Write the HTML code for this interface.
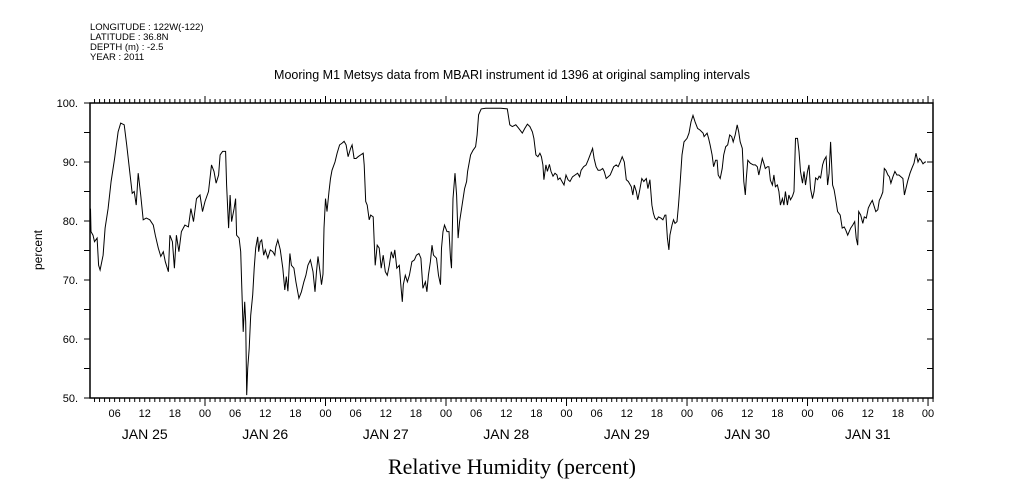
<!DOCTYPE html>
<html><head><meta charset="utf-8"><style>
body{margin:0;background:#fff;}
svg{display:block;font-family:"Liberation Sans",sans-serif;}
</style></head><body>
<svg id="chart" width="1009" height="504" viewBox="0 0 1009 504" xmlns="http://www.w3.org/2000/svg">
<g font-size="9.5" fill="#000">
<text x="90" y="30">LONGITUDE : 122W(-122)</text>
<text x="90" y="40">LATITUDE : 36.8N</text>
<text x="90" y="50">DEPTH (m) : -2.5</text>
<text x="90" y="60">YEAR : 2011</text>
</g>
<text x="512" y="79" font-size="12.5" text-anchor="middle">Mooring M1 Metsys data from MBARI instrument id 1396 at original sampling intervals</text>
<text x="512" y="474" font-size="22" text-anchor="middle" font-family="Liberation Serif, serif">Relative Humidity (percent)</text>
<text transform="translate(42,250) rotate(-90)" font-size="12" text-anchor="middle">percent</text>
<rect x="90" y="103" width="843" height="295" fill="none" stroke="#000" stroke-width="1.5"/>
<g id="axes"></g>
<path id="line" fill="none" stroke="#000" stroke-width="1"/>
</svg>
<script>
const hours=[1.2,1.3,1.7,2.0,2.5,2.8,3.1,3.7,4.1,4.7,5.3,6.0,6.7,7.2,7.9,8.4,9.0,9.5,9.9,10.3,10.7,11.2,11.7,12.3,13.0,13.7,14.1,14.7,15.2,15.7,16.1,16.7,17.0,17.5,17.9,18.3,18.8,19.3,20.0,20.7,21.2,21.7,22.3,23.0,23.5,24.0,24.7,25.3,25.8,26.2,26.7,27.0,27.5,28.1,28.3,28.7,29.0,29.3,29.8,30.1,30.3,30.8,31.1,31.3,31.6,31.9,32.1,32.3,32.5,32.8,33.1,33.5,33.8,34.1,34.5,34.7,35.0,35.3,35.7,36.0,36.5,37.0,37.5,37.9,38.1,38.5,39.0,39.5,39.9,40.2,40.5,40.9,41.2,41.7,42.1,42.7,43.2,43.7,44.1,44.5,45.0,45.5,45.9,46.2,46.5,46.9,47.2,47.5,47.7,48.0,48.3,48.7,49.0,49.3,49.9,50.3,50.8,51.3,51.7,52.1,52.5,53.0,53.3,53.7,54.1,54.5,55.0,55.5,55.7,56.0,56.3,56.7,57.0,57.5,57.7,57.9,
58.3,58.7,59.1,59.5,59.9,60.3,60.7,61.1,61.5,61.8,62.2,62.7,63.0,63.3,63.5,63.9,64.3,64.7,65.2,65.7,66.1,66.6,67.0,67.4,67.9,68.2,68.5,68.9,69.2,69.5,70.1,70.5,70.9,71.1,71.4,71.7,72.2,72.6,72.9,73.1,73.4,73.8,74.1,74.4,74.7,75.2,75.7,76.1,76.3,76.9,77.4,77.9,78.2,78.5,79.0,79.9,81.5,82.9,84.2,84.7,85.2,85.9,86.5,87.2,87.7,88.2,88.7,89.2,89.5,89.9,90.3,90.7,91.0,91.3,91.5,91.9,92.2,92.6,92.9,93.3,93.7,94.1,94.3,94.7,95.1,95.5,95.9,96.3,96.7,97.2,97.7,98.2,98.6,98.9,99.4,99.9,100.3,100.7,101.2,101.5,101.9,102.3,102.7,103.2,103.5,103.9,104.3,104.7,105.0,105.4,105.9,106.3,106.7,107.1,107.5,107.9,108.3,108.9,109.2,109.5,109.9,110.2,110.6,111.0,111.4,111.9,112.2,112.6,
113.0,113.3,113.6,114.0,114.3,114.8,115.2,115.6,115.8,116.1,116.4,116.6,117.0,117.3,117.6,118.0,118.3,118.6,119.0,119.4,120.0,120.4,120.8,121.2,121.6,122.1,122.6,123.2,123.4,124.0,124.3,124.6,125.0,125.3,125.7,126.0,126.2,126.6,127.0,127.3,127.7,128.1,128.5,128.9,129.2,129.6,130.0,130.3,130.6,131.0,131.3,131.6,131.8,132.1,132.6,133.2,133.6,134.0,134.3,134.6,135.0,135.3,135.6,136.0,136.3,136.6,137.0,137.3,137.6,138.0,138.3,138.6,139.0,139.3,139.6,140.0,140.3,140.6,141.0,141.3,141.6,142.0,142.3,142.6,143.0,143.3,143.6,144.0,144.3,144.6,145.0,145.3,145.6,146.0,146.3,146.6,147.0,147.3,147.7,148.0,148.3,148.6,149.0,149.3,149.6,150.0,150.5,150.9,151.3,151.6,152.0,152.3,152.6,153.0,153.4,153.7,154.0,154.2,154.6,155.0,155.3,155.7,156.1,156.5,156.9,157.3,157.6,158.0,158.3,158.6,159.0,159.3,159.6,160.0,160.3,160.6,161.0,161.4,161.8,162.2,162.6,163.0,163.3,163.6,164.0,164.4,164.8,165.2,165.6,166.0,166.3,166.6,167.0,167.4,167.6];
const humidity=[82.1,78.2,77.6,76.5,77.1,72.5,71.7,74.2,78.8,82.1,86.7,90.6,95.1,96.6,96.3,92.9,88.4,84.7,85.0,82.7,88.1,84.4,80.2,80.5,80.2,79.3,77.6,75.4,74.0,74.8,73.1,71.4,77.6,76.5,72.0,77.6,74.8,78.2,79.3,79.0,82.1,79.9,83.8,84.4,81.6,83.3,85.0,89.5,88.4,86.4,87.8,91.2,91.8,91.8,86.1,78.8,84.4,79.9,82.1,83.8,77.6,77.1,74.8,69.2,61.2,66.3,62.9,50.5,55.0,58.4,64.0,67.5,72.0,75.4,77.3,74.8,76.5,76.8,74.2,75.1,73.7,75.1,74.8,74.2,75.6,76.8,75.1,72.0,68.3,70.6,68.1,74.5,72.5,72.0,69.7,66.9,68.0,69.7,70.8,72.5,73.4,71.4,68.0,71.4,74.0,71.4,69.2,71.0,78.8,83.8,81.6,85.0,87.2,88.6,90.0,91.5,92.9,93.2,93.5,92.9,90.9,92.3,92.9,90.6,90.6,90.9,91.2,91.5,89.5,83.3,82.7,80.2,81.0,80.7,76.5,72.5,
75.9,75.4,72.0,74.2,71.4,70.8,72.5,74.8,73.7,75.1,72.0,72.5,69.2,66.3,69.2,70.8,69.7,70.8,73.1,73.4,74.2,74.5,73.7,68.6,69.7,68.0,70.8,73.1,75.9,74.2,73.7,70.8,69.2,75.4,78.2,79.3,78.2,78.2,73.7,72.0,83.8,88.1,84.4,77.1,79.9,82.7,85.5,86.7,88.4,91.2,92.0,92.6,94.6,98.0,99.0,99.1,99.1,99.1,99.0,96.3,96.0,96.3,95.7,94.9,95.7,96.4,96.0,95.1,94.0,91.2,90.9,91.5,90.9,89.5,87.0,89.5,88.4,89.6,88.4,87.6,88.1,87.8,87.0,87.3,86.7,86.1,87.8,87.0,86.7,87.5,87.8,88.1,87.5,88.6,89.2,89.5,90.3,91.2,92.3,90.6,89.2,88.6,88.6,88.9,88.4,87.2,87.5,87.8,88.4,89.2,89.5,89.2,90.0,90.9,90.0,87.0,86.7,85.8,84.4,86.1,85.0,83.6,85.3,87.2,86.7,87.2,85.5,87.0,
82.7,81.3,80.5,80.2,80.7,80.5,80.2,81.0,81.0,77.1,75.1,77.6,79.3,80.2,79.6,79.9,82.7,86.1,91.2,93.4,94.0,94.9,96.8,97.9,96.8,95.7,95.4,94.9,94.3,94.9,94.0,92.9,91.2,89.2,90.3,90.3,87.8,87.2,88.9,91.2,92.6,92.9,94.6,94.3,93.4,94.6,96.3,95.1,93.4,92.3,86.7,84.4,87.2,90.3,89.8,89.5,89.5,89.2,87.8,89.0,90.6,89.8,88.9,89.2,89.2,86.9,86.1,87.8,85.8,86.1,85.0,82.7,83.8,82.7,85.0,82.7,84.4,83.6,84.2,85.0,94.0,94.0,91.8,88.4,86.4,88.4,86.1,88.4,89.5,85.5,83.8,85.0,87.3,87.0,87.6,87.3,89.5,90.3,90.9,86.1,88.1,93.4,86.1,85.3,83.8,81.6,81.0,78.8,79.0,78.5,77.6,78.2,78.8,79.3,79.9,77.1,75.9,81.6,81.0,79.6,80.7,80.5,82.2,82.9,83.5,82.4,81.6,81.9,83.5,84.0,84.9,88.9,88.6,87.8,87.5,86.4,87.5,88.4,87.8,87.8,87.5,87.2,84.4,85.5,86.9,88.1,89.0,89.8,91.5,90.0,90.6,90.3,89.7,90.0,90.0];
const yTicks=[50,60,70,80,90,100];
const yTickLabels=["50.","60.","70.","80.","90.","100."];
const dayLabels=["JAN 25","JAN 26","JAN 27","JAN 28","JAN 29","JAN 30","JAN 31"];
const hourLabels=["06","12","18","00"];

const X0=84.5, PXH=5.021;
function xs(h){return X0+h*PXH;}
function ys(v){return 103+(100-v)*5.9;}
const NS="http://www.w3.org/2000/svg";
const ax=document.getElementById('axes');
function ln(x1,y1,x2,y2,name){const l=document.createElementNS(NS,'line');l.setAttribute('x1',x1);l.setAttribute('y1',y1);l.setAttribute('x2',x2);l.setAttribute('y2',y2);l.setAttribute('stroke','#000');l.setAttribute('stroke-width','1');


ax.appendChild(l);}
function tx(x,y,s,size,anchor,name){const t=document.createElementNS(NS,'text');t.setAttribute('x',x);t.setAttribute('y',y);t.setAttribute('font-size',size);t.setAttribute('text-anchor',anchor);t.textContent=s;


ax.appendChild(t);}
for(let h=2;h<=169;h++){const x=xs(h);const big=h%24===0;
ln(x,103,x,big?96:99,'top-tick');
ln(x,398,x,big?406:402,'bottom-tick');}
for(let h=6;h<=168;h+=6){tx(xs(h),417,hourLabels[(h/6-1)%4],11,'middle','x-tick-label');}
dayLabels.forEach((d,i)=>tx(xs(12+24*i),439,d,14,'middle','day-label'));
for(let v=50;v<=100;v+=5){const y=ys(v);ln(84,y,90,y,'y-tick-left');ln(927,y,933,y,'y-tick-right');}
yTicks.forEach((v,i)=>tx(78,ys(v)+4,yTickLabels[i],11,'end','y-tick-label'));
let d='';hours.forEach((h,i)=>{d+=(i?'L':'M')+xs(h).toFixed(1)+','+ys(humidity[i]).toFixed(1);});
document.getElementById('line').setAttribute('d',d);
</script>
</body></html>
